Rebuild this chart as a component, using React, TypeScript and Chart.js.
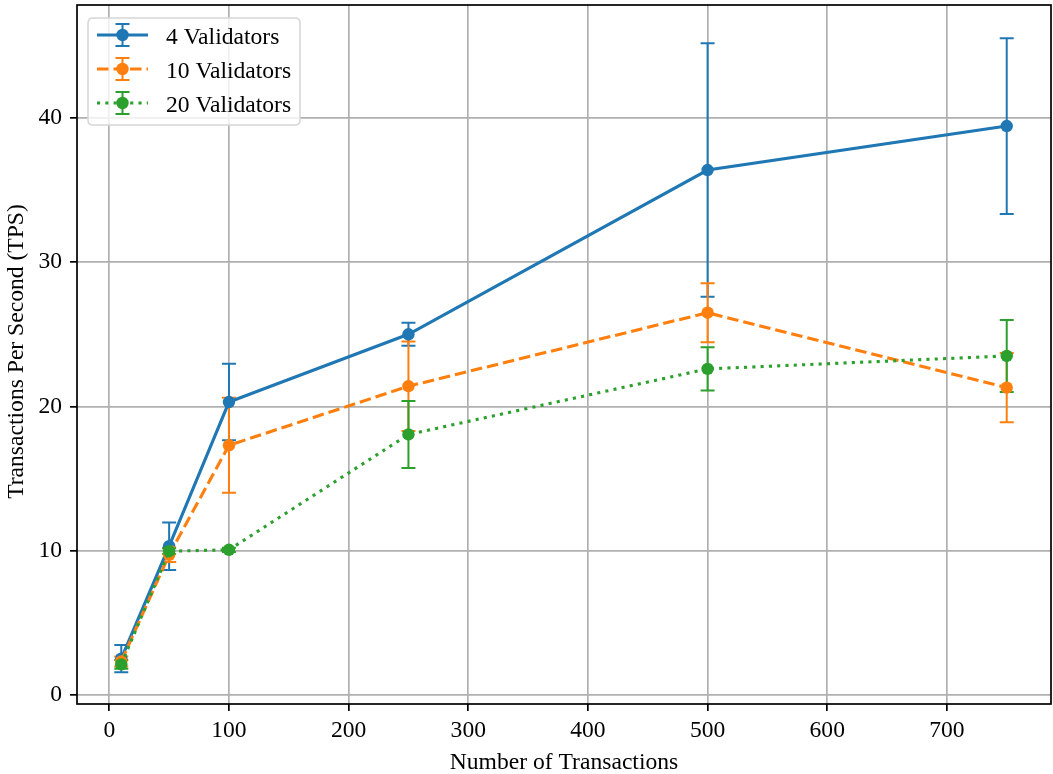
import React, { useEffect, useRef } from "react";
import { Chart, registerables } from "chart.js";

Chart.register(...registerables);

// ---- data ----
const txCounts = [10, 50, 100, 250, 500, 750];
const seriesLabels = ["4 Validators", "10 Validators", "20 Validators"];
const tps4 = [2.5, 10.3, 20.3, 25.0, 36.4, 39.45];
const err4 = [0.95, 1.65, 2.65, 0.8, 8.8, 6.1];
const tps10 = [2.3, 9.7, 17.3, 21.4, 26.5, 21.3];
const err10 = [0.35, 0.5, 3.3, 3.1, 2.05, 2.4];
const tps20 = [2.1, 9.95, 10.05, 18.05, 22.6, 23.5];
const err20 = [0.3, 0.2, 0.15, 2.32, 1.5, 2.5];
const xTickValues = [0, 100, 200, 300, 400, 500, 600, 700];
const yTickValues = [0, 10, 20, 30, 40];
const xLimits = [-27, 787];
const yLimits = [-0.65, 47.85];
const xTitle = "Number of Transactions";
const yTitle = "Transactions Per Second (TPS)";

const colors = ["#1f77b4", "#ff7f0e", "#2ca02c"];
const dashes: number[][] = [[], [11.5, 5], [3.1, 5.2]];
const FONT = '"Liberation Serif", "Times New Roman", serif';
const FS = 23.6;
const LW = 3.1;

export default function App() {
  const ref = useRef<HTMLCanvasElement | null>(null);

  useEffect(() => {
    const canvas = ref.current!;
    const means = [tps4, tps10, tps20];
    const errs = [err4, err10, err20];

    const errorBarPlugin = {
      id: "errbars",
      beforeDatasetsDraw(chart: any) {
        const { ctx, chartArea } = chart;
        const xs = chart.scales.x;
        const ys = chart.scales.y;
        ctx.save();
        ctx.beginPath();
        ctx.rect(chartArea.left, chartArea.top, chartArea.right - chartArea.left, chartArea.bottom - chartArea.top);
        ctx.clip();
        means.forEach((m, si) => {
          ctx.strokeStyle = colors[si];
          ctx.lineWidth = 2;
          ctx.setLineDash([]);
          m.forEach((v, i) => {
            const px = xs.getPixelForValue(txCounts[i]);
            const top = ys.getPixelForValue(v + errs[si][i]);
            const bot = ys.getPixelForValue(v - errs[si][i]);
            ctx.beginPath();
            ctx.moveTo(px, top);
            ctx.lineTo(px, bot);
            ctx.moveTo(px - 7, top);
            ctx.lineTo(px + 7, top);
            ctx.moveTo(px - 7, bot);
            ctx.lineTo(px + 7, bot);
            ctx.stroke();
          });
        });
        ctx.restore();
      },
    };

    const framePlugin = {
      id: "frame",
      afterDraw(chart: any) {
        const { ctx, chartArea } = chart;
        ctx.save();
        // frame
        ctx.strokeStyle = "#000";
        ctx.lineWidth = 1.7;
        ctx.setLineDash([]);
        ctx.strokeRect(chartArea.left, chartArea.top, chartArea.right - chartArea.left, chartArea.bottom - chartArea.top);

        // axis titles
        ctx.fillStyle = "#000";
        ctx.font = `${FS}px ${FONT}`;
        ctx.textAlign = "center";
        ctx.textBaseline = "alphabetic";
        ctx.fillText(xTitle, (chartArea.left + chartArea.right) / 2, 769);
        ctx.save();
        ctx.translate(23, (chartArea.top + chartArea.bottom) / 2 - 3);
        ctx.rotate(-Math.PI / 2);
        ctx.fillText(yTitle, 0, 0);
        ctx.restore();

        // legend
        const bx = 88, by = 18, bw = 212, bh = 107, r = 5;
        ctx.beginPath();
        ctx.moveTo(bx + r, by);
        ctx.lineTo(bx + bw - r, by);
        ctx.quadraticCurveTo(bx + bw, by, bx + bw, by + r);
        ctx.lineTo(bx + bw, by + bh - r);
        ctx.quadraticCurveTo(bx + bw, by + bh, bx + bw - r, by + bh);
        ctx.lineTo(bx + r, by + bh);
        ctx.quadraticCurveTo(bx, by + bh, bx, by + bh - r);
        ctx.lineTo(bx, by + r);
        ctx.quadraticCurveTo(bx, by, bx + r, by);
        ctx.closePath();
        ctx.fillStyle = "rgba(255,255,255,0.8)";
        ctx.fill();
        ctx.strokeStyle = "#d6d6d6";
        ctx.lineWidth = 1.5;
        ctx.stroke();

        const rows = [35, 69, 103];
        seriesLabels.forEach((lab, i) => {
          const cy = rows[i];
          const cx = 122.5;
          // error bar
          ctx.strokeStyle = colors[i];
          ctx.setLineDash([]);
          ctx.lineWidth = 2;
          ctx.beginPath();
          ctx.moveTo(cx, cy - 11);
          ctx.lineTo(cx, cy + 11);
          ctx.moveTo(cx - 7, cy - 11);
          ctx.lineTo(cx + 7, cy - 11);
          ctx.moveTo(cx - 7, cy + 11);
          ctx.lineTo(cx + 7, cy + 11);
          ctx.stroke();
          // line sample
          ctx.lineWidth = LW;
          ctx.setLineDash(dashes[i]);
          ctx.beginPath();
          ctx.moveTo(97, cy);
          ctx.lineTo(148, cy);
          ctx.stroke();
          ctx.setLineDash([]);
          // marker
          ctx.fillStyle = colors[i];
          ctx.beginPath();
          ctx.arc(cx, cy, 6.2, 0, Math.PI * 2);
          ctx.fill();
          // text
          ctx.fillStyle = "#000";
          ctx.textAlign = "left";
          ctx.textBaseline = "alphabetic";
          ctx.font = `${FS}px ${FONT}`;
          ctx.fillText(lab, 166, cy + 9);
        });
        ctx.restore();
      },
    };

    const allSeries = [tps4, tps10, tps20];
    const chart = new Chart(canvas, {
      type: "line",
      data: {
        datasets: allSeries.map((s, i) => ({
          label: seriesLabels[i],
          data: s.map((v, j) => ({ x: txCounts[j], y: v })),
          borderColor: colors[i],
          backgroundColor: colors[i],
          borderWidth: LW,
          borderDash: dashes[i],
          borderCapStyle: "butt",
          pointRadius: 6.2,
          pointHoverRadius: 6.2,
          pointBorderWidth: 0,
          pointBackgroundColor: colors[i],
          tension: 0,
          fill: false,
          order: 3 - i,
        })),
      },
      options: {
        responsive: false,
        animation: false,
        devicePixelRatio: 1,
        events: [],
        layout: { autoPadding: false, padding: { top: 5, right: 2, bottom: 0, left: 0 } },
        plugins: {
          legend: { display: false },
          tooltip: { enabled: false },
          title: { display: false },
        },
        scales: {
          x: {
            type: "linear",
            min: xLimits[0],
            max: xLimits[1],
            afterBuildTicks: (scale: any) => {
              scale.ticks = xTickValues.map((v) => ({ value: v }));
            },
            afterFit: (scale: any) => {
              scale.height = 70;
              scale.paddingLeft = 0;
              scale.paddingRight = 0;
            },
            grid: {
              color: "#b0b0b0",
              lineWidth: 1.7,
              tickColor: "#000",
              tickLength: 7,
              tickWidth: 1.7,
            },
            border: { display: false },
            ticks: {
              color: "#000",
              font: { family: FONT, size: FS },
              padding: 6,
              maxRotation: 0,
              autoSkip: false,
            },
          },
          y: {
            type: "linear",
            min: yLimits[0],
            max: yLimits[1],
            afterBuildTicks: (scale: any) => {
              scale.ticks = yTickValues.map((v) => ({ value: v }));
            },
            afterFit: (scale: any) => {
              scale.width = 77;
              scale.paddingTop = 0;
              scale.paddingBottom = 0;
            },
            grid: {
              color: "#b0b0b0",
              lineWidth: 1.7,
              tickColor: "#000",
              tickLength: 7,
              tickWidth: 1.7,
            },
            border: { display: false },
            ticks: {
              color: "#000",
              font: { family: FONT, size: FS },
              padding: 8,
              autoSkip: false,
            },
          },
        },
      },
      plugins: [errorBarPlugin, framePlugin],
    } as any);

    return () => chart.destroy();
  }, []);

  return (
    <div style={{ position: "fixed", left: 0, top: 0, width: 1053, height: 774, background: "#fff" }}>
      <canvas ref={ref} width={1053} height={774} style={{ display: "block", width: 1053, height: 774 }} />
    </div>
  );
}
